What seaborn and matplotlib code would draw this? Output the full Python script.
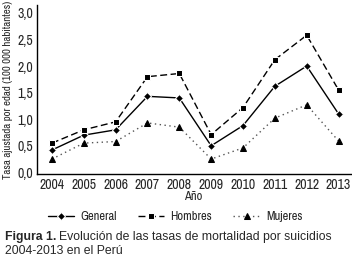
import matplotlib
matplotlib.use("Agg")
import matplotlib.pyplot as plt
import seaborn as sns
import pandas as pd

years = [2004, 2005, 2006, 2007, 2008, 2009, 2010, 2011, 2012, 2013]
general = [0.42, 0.70, 0.80, 1.43, 1.40, 0.50, 0.88, 1.62, 2.00, 1.10]
hombres = [0.55, 0.80, 0.95, 1.80, 1.86, 0.71, 1.22, 2.12, 2.58, 1.55]
mujeres = [0.25, 0.55, 0.58, 0.93, 0.85, 0.25, 0.46, 1.02, 1.27, 0.59]
y_ticks = [0.0, 0.5, 1.0, 1.5, 2.0, 2.5, 3.0]

sns.set_style("white")
narrow = ["Liberation Sans Narrow", "Arial Narrow", "Archivo Narrow", "PT Sans Narrow",
          "Roboto Condensed", "DejaVu Sans"]
plt.rcParams["font.family"] = ["Liberation Sans", "Arimo", "DejaVu Sans"]

df = pd.DataFrame({"year": years, "General": general, "Hombres": hombres, "Mujeres": mujeres})

fig = plt.figure(figsize=(3.52, 2.6), dpi=100)
ax = fig.add_axes([0.105, 0.331, 0.893, 0.65])

sns.lineplot(data=df, x="year", y="General", ax=ax, color="black", linestyle="-",
             marker="D", markersize=4, linewidth=1.0, label="General")
sns.lineplot(data=df, x="year", y="Hombres", ax=ax, color="black", linestyle=(0, (5, 2.5)),
             marker="s", markersize=4.5, linewidth=1.0, label="Hombres")
sns.lineplot(data=df, x="year", y="Mujeres", ax=ax, color="#555555", linestyle=(0, (1, 2.5)),
             marker="^", markersize=4, markerfacecolor="black", markeredgecolor="black",
             linewidth=1.0, label="Mujeres")

ax.set_xlim(2003.53, 2013.4)
ax.set_ylim(-0.03, 3.15)
ax.set_xticks(years)
ax.set_xticklabels([str(y) for y in years], family=narrow, fontsize=10)
ax.set_yticks(y_ticks)
ax.set_yticklabels([f"{v:.1f}".replace(".", ",") for v in y_ticks], family=narrow, fontsize=10)
ax.tick_params(length=0, pad=3)
for s in ["top", "right"]:
    ax.spines[s].set_visible(False)
for s in ["left", "bottom"]:
    ax.spines[s].set_color("black")
    ax.spines[s].set_linewidth(1.0)

ax.set_xlabel("")
ax.set_ylabel("Tasa ajustada por edad (100 000 habitantes)", family=narrow, fontsize=7.8, labelpad=3)

fig.text(193 / 352, 1 - 197 / 260, "Año", ha="center", va="center", family=narrow, fontsize=9)
handles, labels = ax.get_legend_handles_labels()
ax.legend_.remove()
fig.legend(handles, labels, loc="center", bbox_to_anchor=(175 / 352, 1 - 217 / 260), ncol=3,
           frameon=False, prop={"family": narrow, "size": 9}, handlelength=2.1,
           columnspacing=1.7, handletextpad=0.5, borderaxespad=0)

cap_size = 8.8
t1 = fig.text(5 / 352, 1 - 237 / 260, "Figura 1.", fontweight="bold", fontsize=cap_size, va="center")
fig.canvas.draw()
bb = t1.get_window_extent()
fig.text((bb.x1 + 3) / 352, 1 - 237 / 260, "Evolución de las tasas de mortalidad por suicidios",
         fontsize=cap_size, va="center")
fig.text(5 / 352, 1 - 251 / 260, "2004-2013 en el Perú", fontsize=cap_size, va="center")

fig.savefig("out.png", dpi=100)
